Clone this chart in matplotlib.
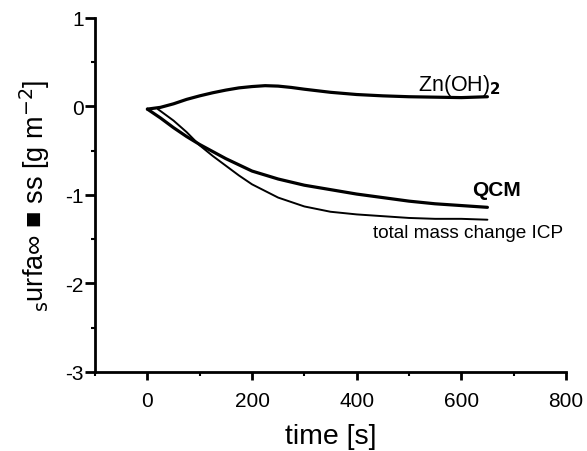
import matplotlib
matplotlib.use("Agg")
import matplotlib.pyplot as plt
from matplotlib.ticker import MultipleLocator

plt.rcParams['font.family'] = ['Liberation Sans', 'DejaVu Sans']
plt.rcParams['axes.unicode_minus'] = False

# Zn(OH)2 surface mass
t_zn = [0, 25, 50, 75, 100, 125, 150, 175, 200, 225, 250, 275, 300, 350, 400, 450, 500, 550, 600, 650]
m_zn = [-0.03, -0.01, 0.03, 0.08, 0.12, 0.155, 0.185, 0.21, 0.225, 0.235, 0.23, 0.215, 0.195, 0.16,
        0.135, 0.12, 0.11, 0.105, 0.10, 0.11]

# QCM mass change
t_qcm = [0, 25, 50, 75, 100, 150, 200, 250, 300, 350, 400, 450, 500, 550, 600, 650]
m_qcm = [-0.03, -0.13, -0.24, -0.34, -0.43, -0.59, -0.73, -0.82, -0.89, -0.94, -0.99, -1.03,
         -1.07, -1.10, -1.12, -1.14]

# total mass change from ICP
t_icp = [20, 50, 75, 100, 125, 150, 175, 200, 250, 300, 350, 400, 450, 500, 550, 600, 650]
m_icp = [-0.03, -0.16, -0.29, -0.44, -0.56, -0.67, -0.78, -0.88, -1.03, -1.13, -1.19, -1.22,
         -1.24, -1.26, -1.27, -1.27, -1.28]

x_ticks = [0, 200, 400, 600, 800]
y_ticks = [-3, -2, -1, 0, 1]

fig = plt.figure(figsize=(5.87, 4.52), dpi=100)
ax = fig.add_axes([0.162, 0.175, 0.802, 0.783])

ax.plot(t_zn, m_zn, color='black', lw=2.3, solid_capstyle='round')
ax.plot(t_qcm, m_qcm, color='black', lw=2.3, solid_capstyle='round')
ax.plot(t_icp, m_icp, color='black', lw=1.4, solid_capstyle='round')

ax.set_xlim(-100, 800)
ax.set_ylim(-3, 1)
ax.set_xticks(x_ticks)
ax.set_yticks(y_ticks)
ax.xaxis.set_minor_locator(MultipleLocator(100))
ax.yaxis.set_minor_locator(MultipleLocator(0.5))

for side in ('top', 'right'):
    ax.spines[side].set_visible(False)
for side in ('left', 'bottom'):
    ax.spines[side].set_linewidth(2.0)

ax.tick_params(axis='x', which='major', direction='out', length=6, width=2, labelsize=15, pad=8)
ax.tick_params(axis='y', which='major', direction='out', length=7, width=2, labelsize=15, pad=1)
ax.tick_params(which='minor', direction='out', length=3, width=1.5)

ax.set_xlabel('time [s]', fontsize=20.5, labelpad=9)
ax.set_ylabel('$_{\\mathrm{s}}$urfa\u221e \u25a0 ss [g m$^{-2}$]', fontsize=19.5, labelpad=10)

ax.text(517, 0.19, 'Zn(OH)$_{\\mathbf{2}}$', fontsize=15.5, ha='left', va='baseline')
ax.text(620, -0.94, 'QCM', fontsize=15, fontweight='bold', ha='left', va='center')
ax.text(431, -1.42, 'total mass change ICP', fontsize=13.7, ha='left', va='center')

fig.savefig('out.png', dpi=100, facecolor='white')
